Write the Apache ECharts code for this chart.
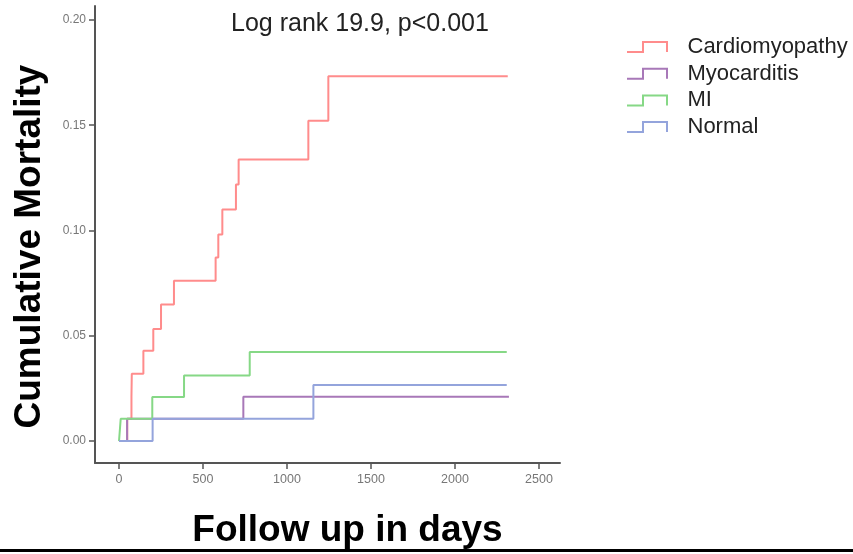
<!DOCTYPE html>
<html>
<head>
<meta charset="utf-8">
<script src="https://cdn.jsdelivr.net/npm/echarts@6/dist/echarts.min.js"></script>
<style>
  html, body { margin: 0; padding: 0; background: #fff; }
  #container { width: 853px; height: 554px; }
</style>
</head>
<body>
<div id="container"></div>
<script>
// cumulative mortality step curves (day of event, cumulative value after it)
var cardioDays = [0, 49, 74, 76, 145, 204, 250, 327, 575, 591, 615, 696, 712, 1127, 1246, 2314];
var cardioRisk = [0, 0.0106, 0.021, 0.032, 0.0429, 0.0532, 0.0649, 0.0761, 0.0872, 0.0981, 0.110, 0.1219, 0.1337, 0.1521, 0.1733, 0.1733];
var myoDays = [0, 48, 740, 2321];
var myoRisk = [0, 0.0106, 0.021, 0.021];
var miDays = [0, 10, 198, 387, 778, 2308];
var miRisk = [0, 0.0106, 0.0209, 0.0312, 0.0423, 0.0423];
var normalDays = [0, 200, 1157, 2308];
var normalRisk = [0, 0.0106, 0.0266, 0.0266];

var groupNames = ['Cardiomyopathy', 'Myocarditis', 'MI', 'Normal'];
var groupColors = ['#ff8c8c', '#a878b8', '#86d886', '#94a4dc'];
var xTicks = [0, 500, 1000, 1500, 2000, 2500];
var yTicks = [0, 0.05, 0.10, 0.15, 0.20];

function zip(days, vals) {
  return days.map(function (d, i) { return [d, vals[i]]; });
}

var curves = [
  zip(cardioDays, cardioRisk),
  zip(myoDays, myoRisk),
  zip(miDays, miRisk),
  zip(normalDays, normalRisk)
];

var dom = document.getElementById('container');
var myChart = echarts.init(dom);

// step glyph used in the legend: _|‾|
var stepIcon = 'path://M0,10 L15,10 L15,0 L41,0 L41,11 L39,11 L39,2 L17,2 L17,12 L0,12 Z';

var option = {
  animation: false,
  textStyle: { fontFamily: 'Liberation Sans, Arial, sans-serif' },
  grid: {
    left: 95,
    right: 293,
    top: 6,
    bottom: 91,
    outerBoundsMode: 'none'
  },
  legend: {
    orient: 'vertical',
    left: 622,
    top: 31,
    itemWidth: 42,
    itemHeight: 12,
    itemGap: 4.7,
    icon: stepIcon,
    itemStyle: { borderWidth: 0 },
    textStyle: {
      fontSize: 22,
      lineHeight: 22,
      color: '#222',
      padding: [0, 0, 0, 14]
    },
    data: groupNames
  },
  title: {
    text: 'Log rank 19.9, p<0.001',
    left: 231,
    top: 12,
    padding: 0,
    textStyle: {
      fontSize: 25,
      fontWeight: 'normal',
      color: '#222'
    }
  },
  xAxis: {
    type: 'value',
    min: -143,
    max: 2625,
    name: 'Follow up in days',
    nameLocation: 'middle',
    nameGap: 49,
    nameTextStyle: {
      fontSize: 37,
      fontWeight: 'bold',
      color: '#000',
      padding: [0, 0, 0, 40]
    },
    splitLine: { show: false },
    axisLine: { onZero: false, lineStyle: { color: '#555', width: 2 } },
    axisTick: {
      customValues: xTicks,
      length: 6,
      lineStyle: { color: '#555', width: 1.5 }
    },
    axisLabel: {
      customValues: xTicks,
      fontSize: 12.5,
      color: '#777',
      margin: 10,
      formatter: function (v) { return String(v); }
    }
  },
  yAxis: {
    type: 'value',
    min: -0.0104,
    max: 0.2066,
    name: 'Cumulative Mortality',
    nameLocation: 'middle',
    nameGap: 47,
    nameTextStyle: {
      fontSize: 37,
      fontWeight: 'bold',
      color: '#000',
      padding: [0, 24, 0, 0]
    },
    splitLine: { show: false },
    axisLine: { show: true, onZero: false, lineStyle: { color: '#555', width: 2 } },
    axisTick: {
      show: true,
      customValues: yTicks,
      length: 6,
      lineStyle: { color: '#555', width: 1.5 }
    },
    axisLabel: {
      customValues: yTicks,
      fontSize: 12,
      color: '#777',
      margin: 9,
      formatter: function (v) { return v.toFixed(2); }
    }
  },
  graphic: [{
    type: 'rect',
    shape: { x: 0, y: 549, width: 853, height: 3 },
    style: { fill: '#000' }
  }],
  series: groupNames.map(function (name, i) {
    return {
      name: name,
      type: 'line',
      step: 'end',
      showSymbol: false,
      color: groupColors[i],
      lineStyle: { width: 2, color: groupColors[i] },
      data: curves[i]
    };
  })
};

if (option && typeof option === 'object') {
  myChart.setOption(option);
}
</script>
</body>
</html>
